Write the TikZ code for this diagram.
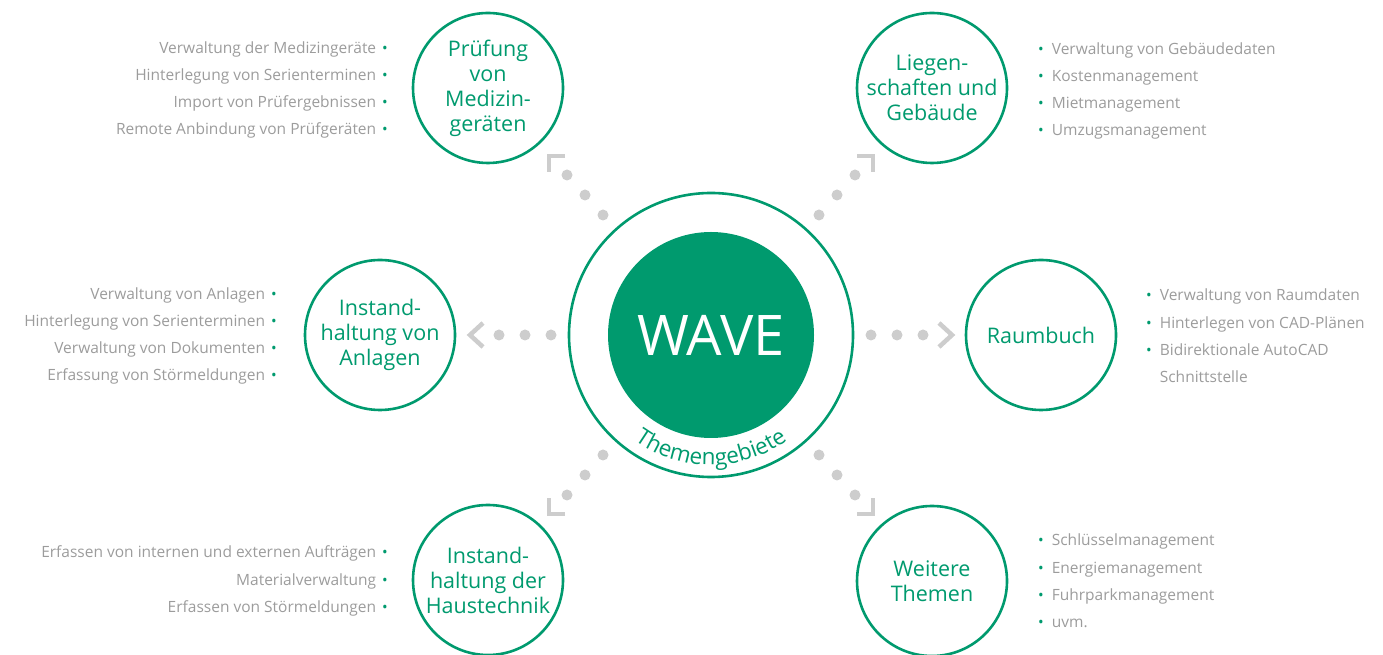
\documentclass[tikz,border=0pt]{standalone}
\usepackage{fontspec}
\setmainfont{Open Sans}
\usetikzlibrary{decorations.text,calc}
\definecolor{wgreen}{HTML}{009A6E}
\definecolor{dotgrey}{HTML}{CDCDCD}
\definecolor{txtgrey}{HTML}{9C9C9C}
\newcommand{\wbul}{\textcolor{wgreen}{\fontsize{15}{15}\selectfont\textbullet}}
\newcommand{\lbul}{\hspace{6pt}\wbul}
\newcommand{\rbul}{\wbul\hspace{8pt}}
\begin{document}
\begin{tikzpicture}[x=1pt,y=1pt,
  topic/.style={circle,draw=wgreen,line width=2.6pt,minimum size=150pt,inner sep=0pt,text=wgreen,align=center,font=\fontsize{21.5}{25}\selectfont},
  listl/.style={anchor=east,align=right,inner sep=0pt,text=txtgrey,font=\fontsize{15.5}{27.3}\selectfont},
  listr/.style={anchor=west,align=left,inner sep=0pt,text=txtgrey,font=\fontsize{15.5}{27.3}\selectfont},
  gdot/.style={circle,fill=dotgrey,inner sep=0pt,minimum size=11pt},
  chev/.style={draw=dotgrey,line width=4.5pt}]
\useasboundingbox (0,0) rectangle (1383,655);
% centre
\node[circle,draw=wgreen,line width=2.6pt,minimum size=284pt,inner sep=0pt] (ring) at (711,320) {};
\node[circle,fill=wgreen,minimum size=206pt,inner sep=0pt,text=white,font=\fontsize{56}{56}\selectfont] (wave) at (711,320) {WAVE};
\path[decorate,decoration={text along path,text align=center,
  text={|\color{wgreen}\fontsize{22.5}{22.5}\selectfont|Themengebiete}}]
  ([shift={(215:130)}]wave.center) arc[start angle=215,end angle=325,radius=130];
% topics
\node[topic] (pruef) at (488,567) {Prüfung\\von\\Medizin-\\geräten};
\node[topic] (lieg) at (932,567) {Liegen-\\schaften und\\Gebäude};
\node[topic] (anl) at (380,320) {Instand-\\haltung von\\Anlagen};
\node[topic] (raum) at (1041,320) {Raumbuch};
\node[topic] (haus) at (488,75) {Instand-\\haltung der\\Haustechnik};
\node[topic] (weit) at (932,74) {Weitere\\Themen};
% lists
\node[listl] (lpruef) at (388,565) {Verwaltung der Medizingeräte\lbul\\Hinterlegung von Serienterminen\lbul\\Import von Prüfergebnissen\lbul\\Remote Anbindung von Prüfgeräten\lbul};
\node[listr] (llieg) at (1038,564) {\rbul Verwaltung von Gebäudedaten\\\rbul Kostenmanagement\\\rbul Mietmanagement\\\rbul Umzugsmanagement};
\node[listl] (lanl) at (277,319) {Verwaltung von Anlagen\lbul\\Hinterlegung von Serienterminen\lbul\\Verwaltung von Dokumenten\lbul\\Erfassung von Störmeldungen\lbul};
\node[listr] (lraum) at (1146,319) {\rbul Verwaltung von Raumdaten\\\rbul Hinterlegen von CAD-Plänen\\\rbul Bidirektionale AutoCAD\\\hphantom{\rbul}Schnittstelle};
\node[listl] (lhaus) at (388,74) {Erfassen von internen und externen Aufträgen\lbul\\Materialverwaltung\lbul\\Erfassen von Störmeldungen\lbul};
\node[listr] (lweit) at (1038,74) {\rbul Schlüsselmanagement\\\rbul Energiemanagement\\\rbul Fuhrparkmanagement\\\rbul uvm.};
% connectors: horizontal
\foreach \d in {160,186,212} {
  \node[gdot] at ($(wave.center)+(-\d,0)$) {};
  \node[gdot] at ($(wave.center)+(\d,0)$) {};
}
\draw[chev] ($(wave.center)+(-228,12)$) -- ($(wave.center)+(-241,0)$) -- ($(wave.center)+(-228,-12)$);
\draw[chev] ($(wave.center)+(228,12)$) -- ($(wave.center)+(241,0)$) -- ($(wave.center)+(228,-12)$);
% connectors: diagonal
\foreach \sx/\sy in {-1/1,1/1,-1/-1,1/-1} {
  \foreach \a/\b in {108/120,126/140,144/160}
    \node[gdot] at ($(wave.center)+(\sx*\a,\sy*\b)$) {};
  \draw[chev] ($(wave.center)+(\sx*146,\sy*179)$) -- ($(wave.center)+(\sx*162,\sy*179)$) -- ($(wave.center)+(\sx*162,\sy*163)$);
}
\end{tikzpicture}
\end{document}
